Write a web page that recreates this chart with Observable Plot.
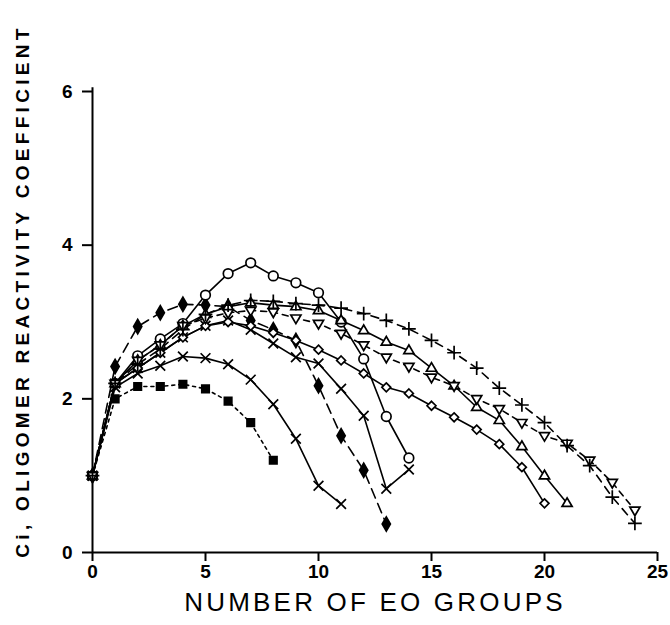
<!DOCTYPE html>
<html>
<head>
<meta charset="utf-8">
<script src="https://cdn.jsdelivr.net/npm/d3@7"></script>
<script src="https://cdn.jsdelivr.net/npm/@observablehq/plot@0.6"></script>
<style>
  body { margin: 0; background: #fff; }
  g[aria-label="y-axis tick label"] text, g[aria-label="x-axis tick label"] text { font-weight: bold; }
</style>
</head>
<body>
<div id="chart"></div>
<script>
// Values; index in each array = number of EO groups (x)
const squaresFilled = [1.0, 2.0, 2.16, 2.16, 2.19, 2.13, 1.97, 1.69, 1.2];
const crossesLow = [1.0, 2.15, 2.33, 2.43, 2.55, 2.53, 2.45, 2.25, 1.93, 1.48, 0.87, 0.63];
const diamondsFilled = [1.0, 2.42, 2.94, 3.12, 3.23, 3.22, 3.2, 3.02, 2.9, 2.76, 2.17, 1.52, 1.07, 0.37];
const crossesMid = [1.0, 2.2, 2.4, 2.6, 2.8, 2.95, 3.02, 2.9, 2.72, 2.54, 2.46, 2.13, 1.78, 0.83, 1.08];
const circles = [1.0, 2.2, 2.56, 2.78, 2.98, 3.35, 3.63, 3.77, 3.6, 3.51, 3.38, 3.0, 2.52, 1.77, 1.23];
const diamondsOpen = [1.0, 2.2, 2.4, 2.6, 2.8, 2.95, 3.0, 2.95, 2.86, 2.76, 2.64, 2.5, 2.33, 2.15, 2.07, 1.91, 1.76, 1.6, 1.41, 1.11, 0.64];
const triangles = [1.0, 2.2, 2.5, 2.7, 2.95, 3.1, 3.2, 3.25, 3.22, 3.2, 3.15, 3.02, 2.89, 2.74, 2.63, 2.4, 2.17, 1.89, 1.72, 1.38, 1.0, 0.64];
const trianglesDown = [1.0, 2.2, 2.5, 2.7, 2.95, 3.05, 3.12, 3.15, 3.13, 3.05, 2.98, 2.85, 2.7, 2.54, 2.42, 2.28, 2.17, 2.0, 1.87, 1.69, 1.52, 1.42, 1.2, 0.91, 0.55];
const pluses = [1.0, 2.2, 2.45, 2.65, 2.9, 3.1, 3.22, 3.28, 3.27, 3.24, 3.22, 3.18, 3.11, 3.02, 2.91, 2.76, 2.6, 2.4, 2.14, 1.92, 1.69, 1.39, 1.13, 0.72, 0.38];

const xTicks = [0, 5, 10, 15, 20, 25];
const yTicks = [0, 2, 4, 6];
const xTitle = "NUMBER OF EO GROUPS";
const yTitle = "Ci, OLIGOMER REACTIVITY COEFFICIENT";

const toPts = arr => arr.map((v, i) => ({x: i, y: v}));

const invTriangle = {
  draw(ctx, size) {
    const s = Math.sqrt(size) * 0.62;
    ctx.moveTo(-s, -s * 0.62);
    ctx.lineTo(s, -s * 0.62);
    ctx.lineTo(0, s * 1.08);
    ctx.closePath();
  }
};
const upTriangle = {
  draw(ctx, size) {
    const s = Math.sqrt(size) * 0.62;
    ctx.moveTo(-s, s * 0.62);
    ctx.lineTo(s, s * 0.62);
    ctx.lineTo(0, -s * 1.08);
    ctx.closePath();
  }
};

const series = [
  {data: squaresFilled, dash: "3,4", symbol: "square", fill: "black", r: 4.2},
  {data: crossesLow, dash: null, symbol: "times", fill: "none", r: 4.5},
  {data: diamondsFilled, dash: "10,6", symbol: "diamond", fill: "black", r: 4.3},
  {data: crossesMid, dash: null, symbol: "times", fill: "none", r: 4.5},
  {data: circles, dash: null, symbol: "circle", fill: "white", r: 4.8},
  {data: diamondsOpen, dash: null, symbol: "diamond2", fill: "white", r: 4.0},
  {data: triangles, dash: null, symbol: upTriangle, fill: "white", r: 4.6},
  {data: trianglesDown, dash: "6,5", symbol: invTriangle, fill: "white", r: 4.6},
  {data: pluses, dash: "8,6", symbol: "plus", fill: "none", r: 4.5}
];

const marks = [];
for (const s of series) {
  marks.push(Plot.line(toPts(s.data), {x: "x", y: "y", stroke: "black", strokeWidth: 1.6, strokeDasharray: s.dash}));
}
for (const s of series) {
  marks.push(Plot.dot(toPts(s.data), {x: "x", y: "y", symbol: s.symbol, r: s.r, stroke: "black", strokeWidth: 1.7, fill: s.fill}));
}

const chart = Plot.plot({
  width: 670,
  height: 625,
  marginLeft: 92,
  marginRight: 13,
  marginTop: 91,
  marginBottom: 73,
  style: {fontFamily: "Liberation Sans, Arial, sans-serif", background: "white", color: "black"},
  x: {domain: [0, 25]},
  y: {domain: [0, 6]},
  marks: [
    Plot.ruleX([0], {stroke: "black", strokeWidth: 2, y1: 0, y2: 6.05}),
    Plot.ruleY([0], {stroke: "black", strokeWidth: 2}),
    Plot.axisX({ticks: xTicks, tickFormat: "d", tickSize: 9, tickPadding: 3, fontSize: 19, label: null, strokeWidth: 2}),
    Plot.axisY({ticks: yTicks, tickFormat: "d", tickSize: 10, tickPadding: 10, fontSize: 19, label: null, strokeWidth: 2}),
    ...marks,
    Plot.text([xTitle], {frameAnchor: "bottom", dy: 58, fontSize: 26, text: d => d, fill: "black"}),
    Plot.text([yTitle], {frameAnchor: "left", textAnchor: "middle", dx: -70, dy: -31, rotate: -90, fontSize: 19, fontWeight: "bold", text: d => d, fill: "black"})
  ]
});
document.getElementById("chart").append(chart);
chart.querySelectorAll("text").forEach(t => {
  if (t.textContent === yTitle) t.setAttribute("letter-spacing", "4.3px");
  if (t.textContent === xTitle) t.setAttribute("letter-spacing", "3.2px");
});
</script>
</body>
</html>
